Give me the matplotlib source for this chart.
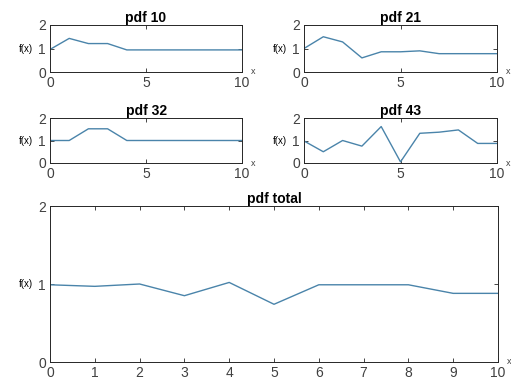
import numpy as np
import matplotlib
matplotlib.use("Agg")
import matplotlib.pyplot as plt

plt.rcParams['font.family'] = ['Liberation Sans', 'DejaVu Sans']

x = np.arange(0, 11)
pdf10 = [0.96, 1.43, 1.21, 1.21, 0.94, 0.94, 0.94, 0.94, 0.94, 0.94, 0.94]
pdf21 = [1.0, 1.5, 1.28, 0.6, 0.86, 0.86, 0.9, 0.78, 0.78, 0.78, 0.78]
pdf32 = [1.0, 1.0, 1.52, 1.52, 1.0, 1.0, 1.0, 1.0, 1.0, 1.0, 1.0]
pdf43 = [0.98, 0.5, 1.0, 0.75, 1.62, 0.05, 1.32, 1.37, 1.47, 0.87, 0.87]
pdftotal = [0.99, 0.97, 1.0, 0.85, 1.02, 0.74, 0.99, 0.99, 0.99, 0.88, 0.88]

titles = ["pdf 10", "pdf 21", "pdf 32", "pdf 43", "pdf total"]
series = [pdf10, pdf21, pdf32, pdf43, pdftotal]

linecol = "#4a84aa"
axcol = "#262626"

fig = plt.figure(figsize=(5.11, 3.83), dpi=100)

W, H = 511.0, 383.0
# left, top, right, bottom in pixels
boxes = [(50, 25, 242, 72), (304, 25, 497, 72),
         (50, 118, 242, 163), (304, 118, 497, 163),
         (50, 206, 498, 362)]

for i, (l, t, r, b) in enumerate(boxes):
    ax = fig.add_axes([l / W, 1 - b / H, (r - l) / W, (b - t) / H])
    ax.plot(x, series[i], color=linecol, lw=1.0)
    ax.set_xlim(0, 10)
    ax.set_ylim(0, 2)
    ax.set_yticks([0, 1, 2])
    if i < 4:
        ax.set_xticks([0, 5, 10])
    else:
        ax.set_xticks(range(0, 11))
    ax.tick_params(direction='in', top=True, right=True, length=3, width=0.6,
                   labelsize=10, colors=axcol, labelcolor="#404040", pad=3)
    for s in ax.spines.values():
        s.set_color(axcol)
        s.set_linewidth(0.7)
    ax.set_title(titles[i], fontsize=10, fontweight='bold', pad=2)
    ax.set_ylabel("f(x)", fontsize=7, rotation=0, ha='right', va='center')
    ax.yaxis.set_label_coords(-17 / (r - l), 0.5)
    ax.set_xlabel("x", fontsize=6.5, ha='center', va='center', color="#404040")
    ax.xaxis.set_label_coords(1 + 11 / (r - l), 0.0)

fig.savefig("out.png", dpi=100)
